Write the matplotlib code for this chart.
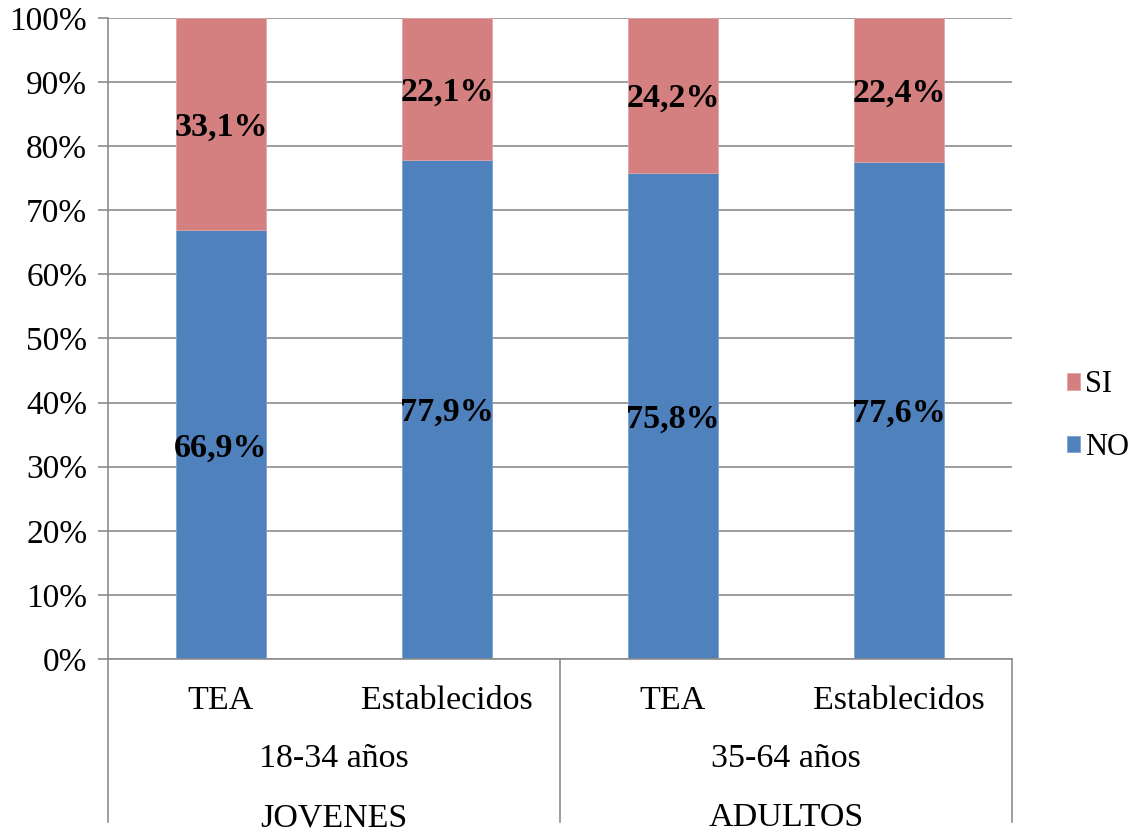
import matplotlib.pyplot as plt
import matplotlib.transforms as mtransforms

plt.rcParams['font.family'] = ['Liberation Serif', 'DejaVu Serif']

tipos = ["TEA", "Establecidos", "TEA", "Establecidos"]
edades = ["18-34 años", "35-64 años"]
grupos = ["JOVENES", "ADULTOS"]
no_vals = [66.9, 77.9, 75.8, 77.6]
si_vals = [33.1, 22.1, 24.2, 22.4]

azul = "#4F81BD"
rosa = "#D48080"
gris = "#8C8C8C"

fig = plt.figure(figsize=(11.33, 8.32), dpi=100)
ax = fig.add_axes([0.0953, 0.2079, 0.7979, 0.7705])

x = list(range(len(tipos)))
b_no = ax.bar(x, no_vals, width=0.4, color=azul, edgecolor="#7FA3D0", linewidth=0.6, label="NO", zorder=3)
b_si = ax.bar(x, si_vals, width=0.4, bottom=no_vals, color=rosa, edgecolor="#E0A5A5", linewidth=0.6, label="SI", zorder=3)

def etiqueta(v):
    return ("%.1f%%" % v).replace(".", ",")

for i in x:
    ax.text(i, no_vals[i] / 2 - 0.5, etiqueta(no_vals[i]), ha="center", va="center",
            fontsize=24.5, fontweight="bold", zorder=4)
    ax.text(i, no_vals[i] + si_vals[i] / 2 - 0.5, etiqueta(si_vals[i]), ha="center", va="center",
            fontsize=24.5, fontweight="bold", zorder=4)

ax.set_xlim(-0.5, 3.5)
ax.set_ylim(0, 100)
ax.set_yticks(range(0, 101, 10))
ax.set_yticklabels(["%d%%" % t for t in range(0, 101, 10)], fontsize=24)
ax.yaxis.grid(True, color=gris, linewidth=1.2, zorder=0)
ax.tick_params(axis="y", length=7, color=gris, width=1.2, pad=8)

ax.set_xticks(x)
ax.set_xticklabels(tipos, fontsize=24.5)
ax.tick_params(axis="x", length=0, pad=19)

for s in ["top", "right", "bottom", "left"]:
    ax.spines[s].set_visible(False)

# ejes con categorias en dos niveles
tr = mtransforms.blended_transform_factory(ax.transData, ax.transAxes)
ax.plot([-0.5, -0.5], [1, -0.254], color=gris, lw=1.2, transform=tr, clip_on=False)
for xs in [1.5, 3.5]:
    ax.plot([xs, xs], [0, -0.254], color=gris, lw=1.2, transform=tr, clip_on=False)
ax.plot([-0.5, 3.5], [0, 0], color=gris, lw=1.2, transform=tr, clip_on=False, zorder=5)

for j in range(2):
    ax.text(0.5 + 2 * j, -0.156, edades[j], ha="center", va="center", fontsize=24.5, transform=tr)
    ax.text(0.5 + 2 * j, -0.248, grupos[j], ha="center", va="center", fontsize=24.5, transform=tr)

ax.legend([b_si, b_no], ["SI", "NO"], loc="center left", bbox_to_anchor=(0.936, 0.5),
          bbox_transform=fig.transFigure, frameon=False, fontsize=22,
          handlelength=0.45, handleheight=0.45, handletextpad=0.15, labelspacing=1.1,
          borderpad=0.2, borderaxespad=0)

fig.savefig("out.png", dpi=100)
